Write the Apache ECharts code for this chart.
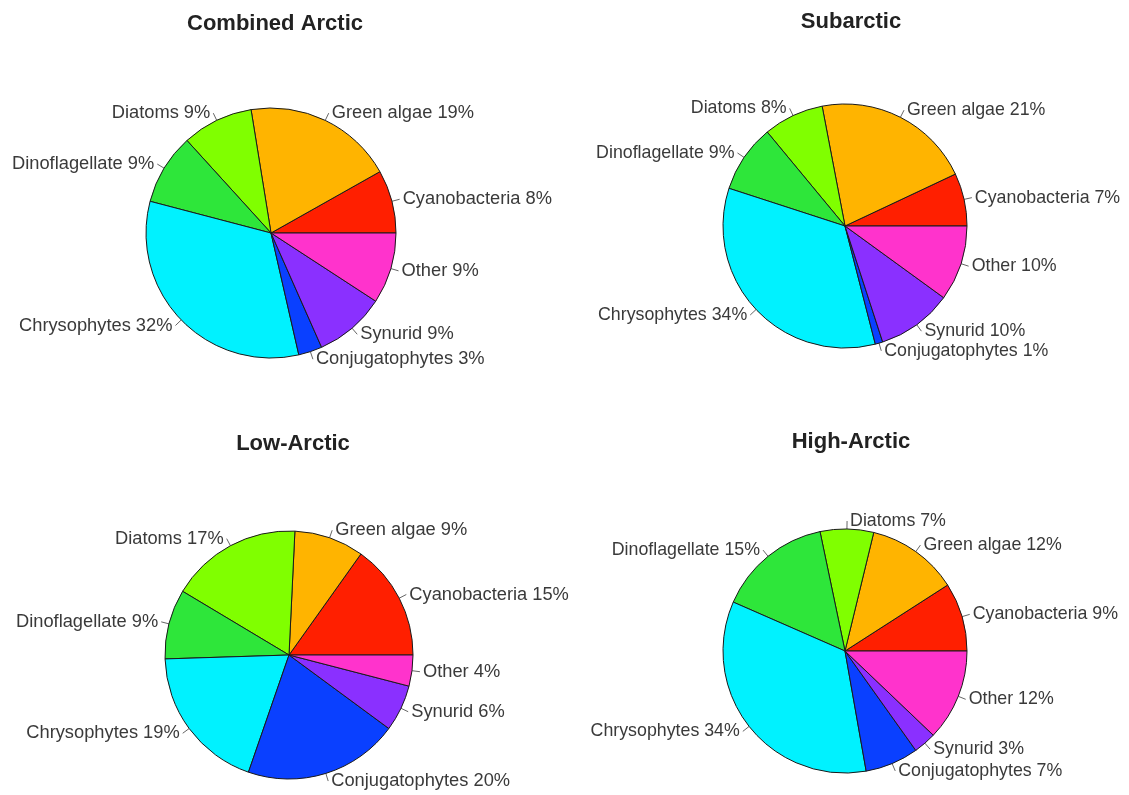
<!DOCTYPE html>
<html>
<head>
<meta charset="utf-8">
<script src="https://cdn.jsdelivr.net/npm/echarts@6/dist/echarts.min.js"></script>
<style>
html,body{margin:0;padding:0;background:#fff;}
#chart{width:1129px;height:795px;}
</style>
</head>
<body>
<div id="chart"></div>
<script>
const categories = ['Cyanobacteria','Green algae','Diatoms','Dinoflagellate','Chrysophytes','Conjugatophytes','Synurid','Other'];
const colors = ['#ff1f00','#ffb400','#80ff00','#2ee63a','#00f2ff','#0a40ff','#8a30ff','#ff33cc'];
const combinedArctic = [8,19,9,9,32,3,9,9];
const subarctic = [7,21,8,9,34,1,10,10];
const lowArctic = [15,9,17,9,19,20,6,4];
const highArctic = [9,12,7,15,34,7,3,12];
const panelTitles = ['Combined Arctic','Subarctic','Low-Arctic','High-Arctic'];

const panels = [
  {title: panelTitles[0], values: combinedArctic, center: [271,233], r: 125, tx: 270, ty: 8, fs: 18.3},
  {title: panelTitles[1], values: subarctic, center: [845,226], r: 122, tx: 846, ty: 6, fs: 17.8},
  {title: panelTitles[2], values: lowArctic, center: [289,655], r: 124, tx: 288, ty: 428, fs: 18.3},
  {title: panelTitles[3], values: highArctic, center: [845,651], r: 122, tx: 846, ty: 426, fs: 17.8}
];

const chart = echarts.init(document.getElementById('chart'));
chart.setOption({
  animation: false,
  backgroundColor: '#ffffff',
  title: panels.map(p => ({
    text: p.title, left: p.tx, top: p.ty, textAlign: 'center',
    textStyle: {fontFamily: 'Liberation Sans, Arial, sans-serif', fontWeight: 'bold', fontSize: 22, color: '#222'}
  })),
  series: panels.map(p => ({
    type: 'pie',
    center: p.center,
    radius: p.r,
    startAngle: 0,
    clockwise: false,
    avoidLabelOverlap: false,
    silent: true,
    itemStyle: {borderColor: '#1a1a1a', borderWidth: 1},
    label: {
      show: true, position: 'outside', formatter: '{b} {c}%',
      fontFamily: 'Liberation Sans, Arial, sans-serif', fontSize: p.fs, color: '#3a3a3a',
      distanceToLabelLine: 3
    },
    labelLine: {show: true, length: 8, length2: 0, lineStyle: {color: '#666', width: 1}},
    emphasis: {disabled: true},
    data: categories.map((c, i) => ({name: c, value: p.values[i], itemStyle: {color: colors[i]}}))
  }))
});
</script>
</body>
</html>
